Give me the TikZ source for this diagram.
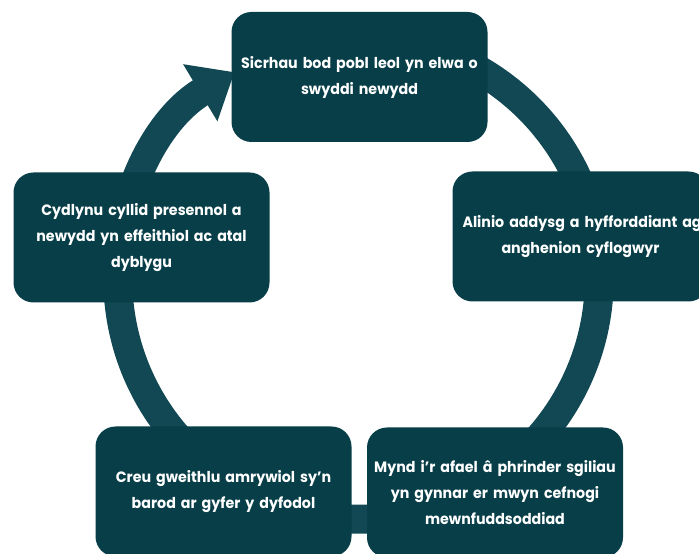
\documentclass[tikz,border=0pt]{standalone}
\usepackage{fontspec}
\setmainfont{Poppins}[BoldFeatures={FakeStretch=0.95,WordSpace=0.85}]
\usetikzlibrary{arrows.meta}
\definecolor{boxc}{HTML}{073E48}
\definecolor{ringc}{HTML}{114853}
\begin{document}
\begin{tikzpicture}[x=1pt,y=1pt,
  stepbox/.style={rectangle, fill=boxc, rounded corners=20pt,
    minimum height=130pt, inner xsep=2pt, inner ysep=0pt, text width=252pt,
    align=center, text=white, font=\fontsize{15}{26}\selectfont\bfseries},
  ring/.style={draw=ringc, line width=29pt, line cap=butt}]
\useasboundingbox (0,0) rectangle (699,554);
\clip (0,0) rectangle (699,554);
\coordinate (c) at (358.5,275.5);
\draw[ring, -{Triangle[width=64pt,length=40pt]}] (c) ++(100:240.7pt)
  arc[start angle=100, end angle=-239, radius=240.7pt];
\node[stepbox] (top) at (359.5,477) {Sicrhau bod pobl leol yn elwa o\\swyddi newydd};
\node[stepbox] (right) at (580.5,317.5) {\makebox[\linewidth][l]{\hspace*{8pt}Alinio addysg a hyfforddiant ag}\\anghenion cyflogwyr};
\node[stepbox] (left) at (141.5,316.5) {Cydlynu cyllid presennol a\\newydd yn effeithiol ac atal\\dyblygu};
\node[stepbox] (bl) at (223.5,62.5) {Creu gweithlu amrywiol sy'n\\barod ar gyfer y dyfodol};
\node[stepbox] (br) at (495,61.5) {Mynd i'r afael â phrinder sgiliau\\yn gynnar er mwyn cefnogi\\mewnfuddsoddiad};
\end{tikzpicture}
\end{document}
